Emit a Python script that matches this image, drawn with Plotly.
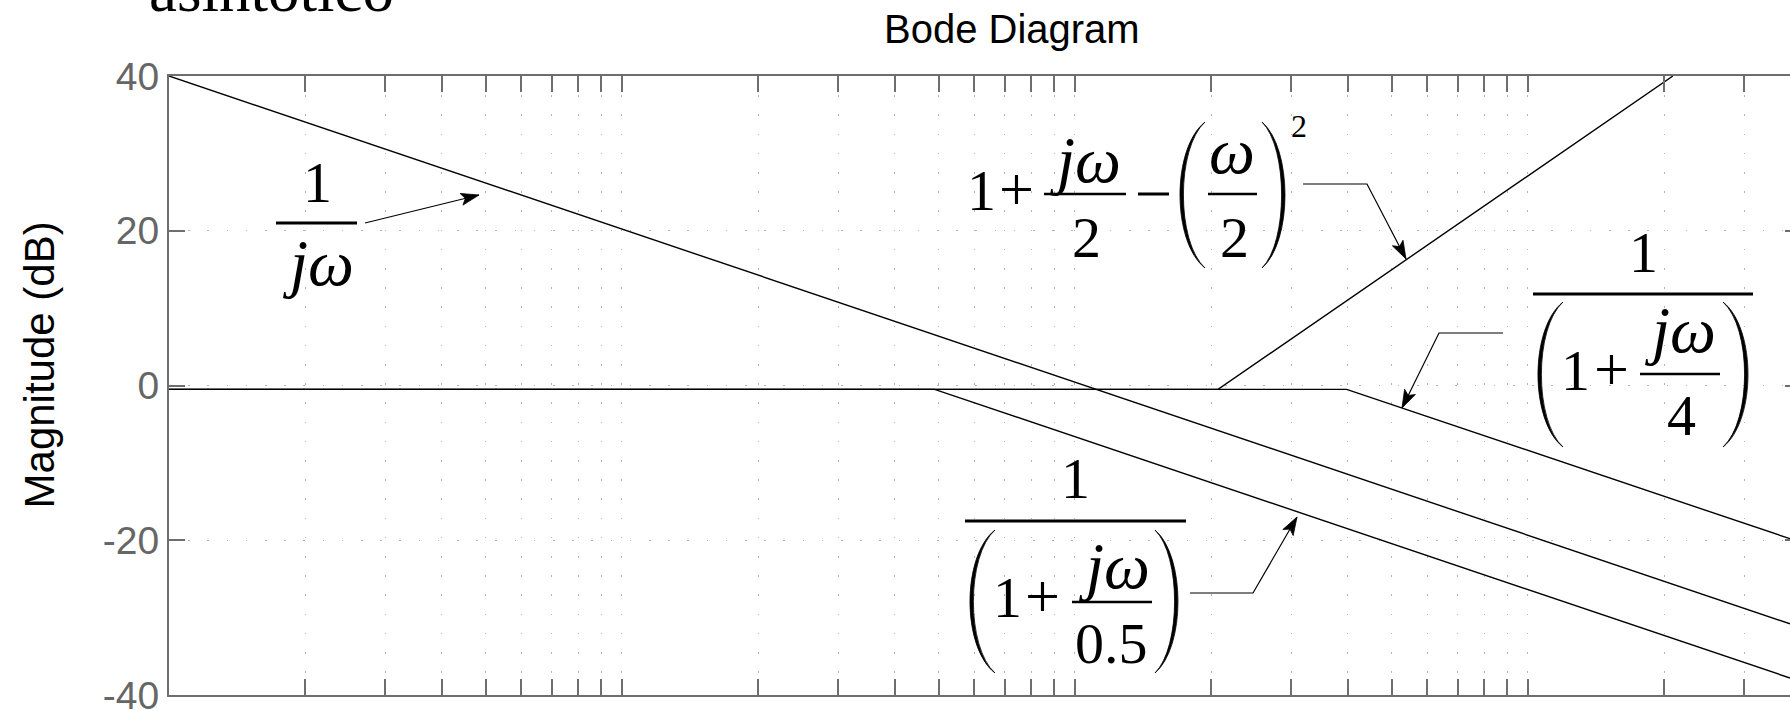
"""
Asymptotic Bode magnitude diagram with annotated factors
"""
import math
import plotly.graph_objects as go

# asymptote break points (rad/s, dB)
omega_inv_jw = [0.01, 37.9]
db_inv_jw = [40.0, -30.8]

omega_pole_05 = [0.01, 0.49, 37.9]
db_pole_05 = [-0.5, -0.5, -37.8]

omega_quad_2 = [0.01, 2.07, 20.9]
db_quad_2 = [-0.5, -0.5, 40.0]

omega_pole_4 = [0.01, 3.98, 37.9]
db_pole_4 = [-0.5, -0.5, -19.8]

y_ticks = [-40, -20, 0, 20, 40]
y_ticklabels = ['-40', '-20', '0', '20', '40']

# plot area in page pixels
L, R, T, B = 169, 1790, 76, 695
W, H = R - L, B - T

AXIS = '#6e6e6e'
GRID = '#b4b4b4'
SERIF = 'Liberation Serif'
SANS = 'Liberation Sans'


def xp(x):
    return (x - L) / W


def yp(y):
    return (B - y) / H


fig = go.Figure()

for om, db in [(omega_inv_jw, db_inv_jw), (omega_pole_05, db_pole_05),
               (omega_quad_2, db_quad_2), (omega_pole_4, db_pole_4)]:
    fig.add_trace(go.Scatter(x=om, y=db, mode='lines',
                             line=dict(color='black', width=1.4),
                             hoverinfo='skip', showlegend=False))

# dummy trace so the right-hand tick stubs get drawn
fig.add_trace(go.Scatter(x=[0.01], y=[0], yaxis='y2', mode='markers',
                         marker=dict(opacity=0), hoverinfo='skip',
                         showlegend=False))


def text(x, base, s, size=58, family=SERIF, color='black'):
    fig.add_annotation(x=xp(x), y=yp(base - 0.3375 * size), xref='paper', yref='paper',
                       text=s, showarrow=False, xanchor='center', yanchor='middle',
                       borderpad=0, font=dict(family=family, size=size, color=color))


def bar(x0, x1, y, w=2.6):
    fig.add_shape(type='line', xref='paper', yref='paper',
                  x0=xp(x0), x1=xp(x1), y0=yp(y), y1=yp(y),
                  line=dict(color='black', width=w))


def paren(x_end, x_mid, y0, y1, t=3.4):
    # crescent shaped bracket, bulging towards x_mid
    s = 1 if x_mid > x_end else -1
    h = y1 - y0
    c_out = (x_mid - 0.25 * x_end) / 0.75
    c_in = (x_mid - s * t - 0.25 * x_end) / 0.75
    p = (f'M {xp(x_end)},{yp(y0)} '
         f'C {xp(c_out)},{yp(y0 + 0.18 * h)} {xp(c_out)},{yp(y1 - 0.18 * h)} {xp(x_end)},{yp(y1)} '
         f'C {xp(c_in)},{yp(y1 - 0.18 * h)} {xp(c_in)},{yp(y0 + 0.18 * h)} {xp(x_end)},{yp(y0)} Z')
    fig.add_shape(type='path', xref='paper', yref='paper', path=p,
                  fillcolor='black', line=dict(color='black', width=0.8))


def leader(points, length=18, half=6, notch=4):
    p = 'M ' + ' L '.join(f'{xp(x)},{yp(y)}' for x, y in points)
    fig.add_shape(type='path', xref='paper', yref='paper', path=p,
                  line=dict(color='black', width=1.2))
    (x0, y0), (x1, y1) = points[-2], points[-1]
    d = math.hypot(x1 - x0, y1 - y0)
    ux, uy = (x1 - x0) / d, (y1 - y0) / d
    nx, ny = -uy, ux
    pts = [(x1, y1),
           (x1 - ux * length + nx * half, y1 - uy * length + ny * half),
           (x1 - ux * (length - notch), y1 - uy * (length - notch)),
           (x1 - ux * length - nx * half, y1 - uy * length - ny * half)]
    head = 'M ' + ' L '.join(f'{xp(x)},{yp(y)}' for x, y in pts) + ' Z'
    fig.add_shape(type='path', xref='paper', yref='paper', path=head,
                  fillcolor='black', line=dict(color='black', width=0.8))


JW = 65

# 1 / jw
text(317, 202, '1')
bar(276, 357, 223, 3)
text(318, 285, '<i>jω</i>', JW)
leader([(365, 223), (479, 195)])

# 1 + jw/2 - (w/2)^2
text(981, 210, '1')
text(1016, 210, '+', 62)
bar(1044, 1126, 194)
text(1085, 182, '<i>jω</i>', JW)
text(1086, 257, '2')
bar(1138, 1169, 194, 3)
paren(1205, 1180, 122, 268)
bar(1208, 1257, 194)
text(1232, 173, '<i>ω</i>', JW)
text(1234, 257, '2')
paren(1262, 1285, 122, 268)
text(1299, 137, '2', size=32)
leader([(1303, 184), (1367, 184), (1406, 259)])

# 1 / (1 + jw/4)
text(1643, 272, '1')
bar(1533, 1753, 294, 3)
paren(1563, 1538, 302, 447)
text(1575, 390, '1')
text(1611, 390, '+', 62)
bar(1640, 1720, 374)
text(1680, 352, '<i>jω</i>', JW)
text(1681, 435, '4')
paren(1723, 1748, 302, 447)
leader([(1503, 333), (1439, 333), (1402, 408)])

# 1 / (1 + jw/0.5)
text(1075, 498, '1')
bar(965, 1186, 521, 3)
paren(995, 970, 530, 673)
text(1007, 617, '1')
text(1042, 617, '+', 62)
bar(1072, 1152, 602)
text(1114, 588, '<i>jω</i>', JW)
text(1111, 663, '0.5')
paren(1155, 1178, 530, 673)
leader([(1190, 593), (1253, 593), (1297, 517)])

# titles
text(1012, 43, 'Bode Diagram', size=40, family=SANS)
text(271, 11, 'asintotico', size=63)
fig.add_annotation(x=xp(54 - 0.3465 * 42), y=yp(365), xref='paper', yref='paper',
                   text='Magnitude (dB)', textangle=-90, showarrow=False,
                   xanchor='center', yanchor='middle', borderpad=0,
                   font=dict(family=SANS, size=42, color='black'))

fig.update_layout(
    width=1790,
    height=710,
    margin=dict(l=L, r=0, t=T, b=710 - B, autoexpand=False),
    plot_bgcolor='white',
    paper_bgcolor='white',
    showlegend=False,
    xaxis=dict(
        type='log',
        range=[-2, math.log10(37.9)],
        showline=True, linecolor=AXIS, linewidth=2, mirror='allticks',
        ticks='inside', ticklen=16, tickwidth=1.5, tickcolor=AXIS,
        dtick=1, showticklabels=False, automargin=False,
        showgrid=True, gridcolor=GRID, gridwidth=1, griddash='1.5px,17.7px',
        minor=dict(dtick='D1', ticks='inside', ticklen=10, tickwidth=1.5,
                   tickcolor=AXIS, showgrid=True, gridcolor=GRID, gridwidth=1,
                   griddash='1.5px,17.7px'),
        zeroline=False,
    ),
    yaxis=dict(
        range=[-40, 40],
        tickvals=y_ticks, ticktext=y_ticklabels,
        showline=True, linecolor=AXIS, linewidth=2, mirror=False,
        ticks='inside', ticklen=16, tickwidth=1.5, tickcolor=AXIS,
        tickfont=dict(family=SANS, size=39, color='#666666'),
        ticklabeloverflow='allow', automargin=False,
        showgrid=True, gridcolor=GRID, gridwidth=1, griddash='1.5px,17.7px',
        zeroline=False,
    ),
    yaxis2=dict(
        overlaying='y', side='right', range=[-40, 40], tickvals=y_ticks,
        showticklabels=False, ticks='inside', ticklen=5, tickwidth=1.5,
        tickcolor=AXIS, showline=False, showgrid=False, zeroline=False,
        automargin=False,
    ),
)

fig.write_html("out.html", config={'displayModeBar': False},
               post_script="document.body.style.margin='0';")
